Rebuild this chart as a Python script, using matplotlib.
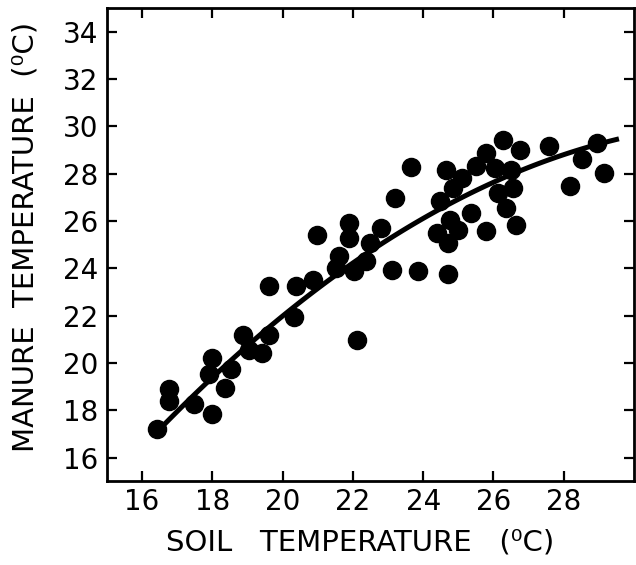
import matplotlib
matplotlib.use('agg')
import matplotlib.pyplot as plt
import numpy as np

# soil vs manure temperature (deg C)
soil = [16.43, 16.78, 16.78, 17.48, 17.98, 18.00, 17.90, 18.36, 18.52, 18.86,
        19.05, 19.41, 19.62, 19.60, 20.33, 20.39, 20.86, 20.98, 21.60, 21.53,
        21.90, 21.90, 22.04, 22.37, 22.50, 22.79, 22.11, 23.12, 23.85, 24.71,
        23.21, 23.66, 24.64, 24.48, 24.38, 24.76, 24.71, 24.99, 24.85, 25.09,
        25.37, 25.51, 25.79, 25.79, 26.03, 26.26, 26.50, 26.55, 26.36, 26.64,
        26.76, 26.12, 27.58, 28.19, 28.52, 28.94, 29.13]
manure = [17.20, 18.91, 18.39, 18.25, 17.83, 20.22, 19.52, 18.95, 19.73, 21.20,
          20.57, 20.43, 21.20, 23.24, 21.95, 23.27, 23.50, 25.42, 24.50, 24.02,
          25.92, 25.28, 23.88, 24.30, 25.07, 25.70, 20.96, 23.95, 23.88, 23.78,
          26.97, 28.28, 28.14, 26.83, 25.49, 26.06, 25.07, 25.63, 27.39, 27.81,
          26.34, 28.31, 28.87, 25.56, 28.24, 29.43, 28.17, 27.39, 26.55, 25.85,
          28.98, 27.18, 29.15, 27.46, 28.62, 29.29, 28.03]

# fitted curve as drawn in the figure: y = c0 + c1*(x-22.27) + c2*(x-22.27)^2
fit_coef = [24.5, 1.007, -0.0447]
fit_range = [16.6, 29.5]

xticks = [16, 18, 20, 22, 24, 26, 28]
yticks = [16, 18, 20, 22, 24, 26, 28, 30, 32, 34]

plt.rcParams['font.family'] = ['DejaVu Sans']

fig = plt.figure(figsize=(6.36, 5.65), dpi=100)
ax = fig.add_axes([0.168, 0.148, 0.829, 0.838])

ax.scatter(soil, manure, s=170, color='black', zorder=3)

xs = np.linspace(fit_range[0], fit_range[1], 100)
u = xs - 22.27
ax.plot(xs, fit_coef[0] + fit_coef[1] * u + fit_coef[2] * u ** 2,
        color='black', lw=3.6, zorder=2)

ax.set_xlim(15, 30)
ax.set_ylim(15, 35)
ax.set_xticks(xticks)
ax.set_yticks(yticks)
ax.set_xticklabels([str(v) for v in xticks])
ax.set_yticklabels([str(v) for v in yticks])

ax.tick_params(direction='in', length=7, width=1.6, labelsize=20,
               top=True, right=True, pad=5)
ax.tick_params(axis='y', pad=6)
for sp in ax.spines.values():
    sp.set_linewidth(2)

ax.set_xlabel('SOIL   TEMPERATURE   (\u2070C)', fontsize=21)
ax.set_ylabel('MANURE  TEMPERATURE  (\u2070C)', fontsize=21)
ax.xaxis.set_label_coords(0.48, -0.1)
ax.yaxis.set_label_coords(-0.127, 0.516)

fig.savefig('out.png', dpi=100)
